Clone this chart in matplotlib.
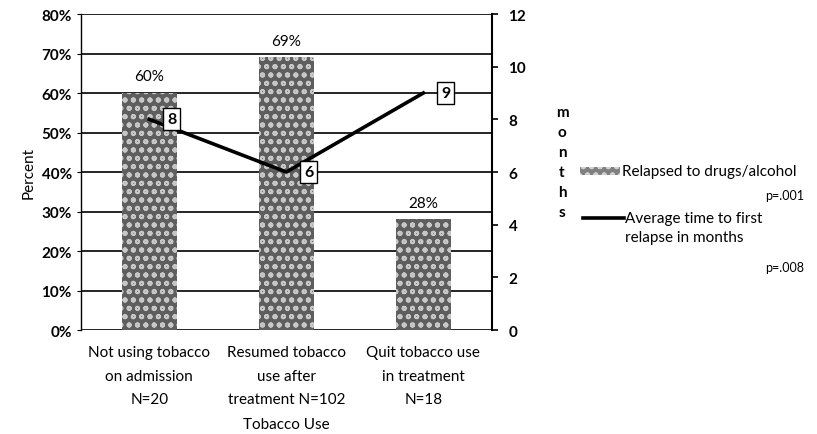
import matplotlib
matplotlib.use("Agg")
import matplotlib.pyplot as plt
from matplotlib.patches import Rectangle
from matplotlib.lines import Line2D
import numpy as np

categories = ["Not using tobacco\non admission\nN=20",
              "Resumed tobacco\nuse after\ntreatment N=102",
              "Quit tobacco use\nin treatment\nN=18"]
relapse_pct = [60, 69, 28]
months_to_relapse = [8, 6, 9]
pct_ticks = list(range(0, 81, 10))
month_ticks = list(range(0, 13, 2))

plt.rcParams['font.family'] = ['Lato', 'DejaVu Sans']
plt.rcParams['font.size'] = 11
plt.rcParams['hatch.linewidth'] = 1.3

fig = plt.figure(figsize=(8.17, 4.35), dpi=100)
ax = fig.add_axes([0.099, 0.239, 0.503, 0.7265])
x = np.arange(len(categories))

ax.set_xlim(-0.5, len(categories) - 0.5)
ax.set_ylim(0, 80)
for t in pct_ticks:
    ax.axhline(t, color='black', lw=1.2, zorder=1)
bars = ax.bar(x, relapse_pct, width=0.4, color='#5e5e5e', edgecolor='#c8c8c8',
              hatch='oo', linewidth=0, zorder=2)
for xi, v in zip(x, relapse_pct):
    ax.text(xi, v + 4.2, f"{v}%", ha='center', va='center', fontsize=11)

ax.set_yticks(pct_ticks)
ax.set_yticklabels([f"{t}%" for t in pct_ticks], fontweight='bold')
ax.set_xticks(x)
ax.set_xticklabels(categories, fontsize=11, linespacing=1.85)
ax.tick_params(axis='x', length=0, pad=11)
ax.tick_params(axis='y', length=3, direction='out')
ax.set_ylabel("Percent", fontsize=11, labelpad=4)
ax.set_xlabel("Tobacco Use", fontsize=11, labelpad=8)
for s in ['top', 'right', 'bottom']:
    ax.spines[s].set_visible(False)
ax.spines['left'].set_linewidth(1.0)

ax2 = ax.twinx()
ax2.set_ylim(0, 12)
ax2.set_yticks(month_ticks)
ax2.set_yticklabels([str(t) for t in month_ticks], fontweight='bold')
ax2.tick_params(axis='y', length=4, width=1.2, direction='out', pad=8)
for s in ['top', 'left', 'bottom']:
    ax2.spines[s].set_visible(False)
ax2.spines['right'].set_linewidth(1.5)
ax2.plot(x, months_to_relapse, color='black', lw=2.6, zorder=3)
for xi, v in zip(x, months_to_relapse):
    ax2.annotate(str(v), (xi, v), xytext=(16, 0), textcoords='offset points',
                 ha='center', va='center', fontsize=11.5, fontweight='bold',
                 bbox=dict(boxstyle='square,pad=0.25', fc='white', ec='black', lw=1.0))

fig.text(562 / 817, 1 - 163 / 435, "m\no\nn\nt\nh\ns", ha='center', va='center',
         fontsize=11, fontweight='bold', linespacing=1.55)

# legend built by hand
fig.patches.append(Rectangle((580 / 817, 1 - 176 / 435), 40 / 817, 8 / 435,
                             transform=fig.transFigure, facecolor='#808080',
                             edgecolor='#d0d0d0', hatch='oo', linewidth=0))
fig.text(622 / 817, 1 - 172 / 435, "Relapsed to drugs/alcohol", ha='left', va='center', fontsize=11)
fig.text(804 / 817, 1 - 196 / 435, "p=.001", ha='right', va='center', fontsize=9)
fig.lines.append(Line2D([583 / 817, 624 / 817], [1 - 219 / 435, 1 - 219 / 435],
                        transform=fig.transFigure, color='black', lw=2.6))
fig.text(625 / 817, 1 - 219 / 435, "Average time to first", ha='left', va='center', fontsize=11)
fig.text(625 / 817, 1 - 238 / 435, "relapse in months", ha='left', va='center', fontsize=11)
fig.text(804 / 817, 1 - 268 / 435, "p=.008", ha='right', va='center', fontsize=9)

fig.savefig("out.png", dpi=100)
